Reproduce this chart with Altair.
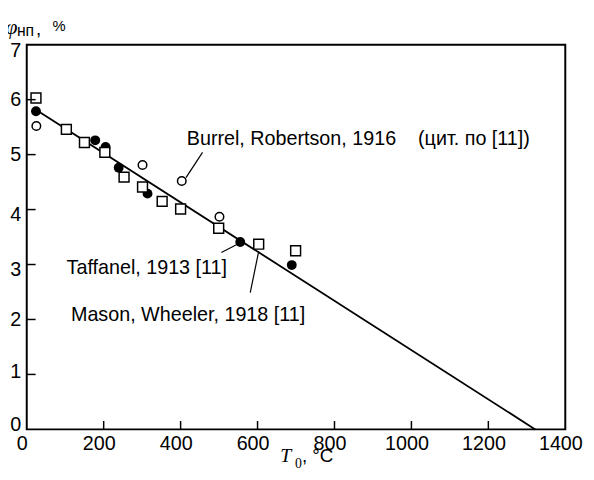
import altair as alt
import pandas as pd

# ---- data ----
sq_T = [24, 103, 150, 203, 253, 301, 352, 400, 499, 603, 699]
sq_v = [6.03, 5.46, 5.22, 5.04, 4.59, 4.41, 4.15, 4.01, 3.66, 3.37, 3.25]
fill_T = [24, 178, 205, 239, 314, 555, 689]
fill_v = [5.79, 5.26, 5.14, 4.76, 4.29, 3.41, 2.99]
open_T = [25, 301, 403, 501]
open_v = [5.52, 4.81, 4.52, 3.87]
fit_T = [30, 1322]
fit_v = [5.79, 0.0]

labels = ["Burrel, Robertson, 1916\u00a0\u00a0\u00a0\u00a0(цит. по [11])",
          "Taffanel, 1913 [11]",
          "Mason, Wheeler, 1918 [11]"]
label_T = [416, 103.5, 115]
label_v = [5.18, 2.82, 1.98]
lead_T1 = [414, 545, 603]
lead_v1 = [4.58, 3.36, 3.24]
lead_T2 = [457, 506, 581]
lead_v2 = [5.04, 3.22, 2.49]

x_ticks = [0, 200, 400, 600, 800, 1000, 1200, 1400]
y_ticks = [0, 1, 2, 3, 4, 5, 6, 7]
x_inner_ticks = [200, 400, 600, 800, 1000, 1200]
y_inner_ticks = [1, 2, 3, 4, 5, 6]

W, H = 546, 390
FONT = "Liberation Sans"

xs = alt.Scale(domain=[0, 1400], nice=False, zero=False)
ys = alt.Scale(domain=[0, 7], nice=False, zero=False)
xaxis = alt.Axis(values=x_ticks, ticks=False, domain=False, grid=False, title=None,
                 labelFontSize=20, labelFont=FONT, labelColor="black",
                 labelPadding=4, labelFlush=False, labelOffset=-5, format="d")
yaxis = alt.Axis(values=y_ticks, ticks=False, domain=False, grid=False, title=None,
                 labelFontSize=20, labelFont=FONT, labelColor="black",
                 labelPadding=6, labelFlush=False, format="d",
                 labelOffset={"condition": [
                     {"test": "datum.value == 7", "value": 6},
                     {"test": "datum.value == 4", "value": 5},
                     {"test": "datum.value == 3", "value": 5},
                     {"test": "datum.value == 1", "value": -3},
                     {"test": "datum.value == 0", "value": -5}],
                     "value": 0})


def X(f="T"):
    return alt.X(f + ":Q", scale=xs, axis=xaxis)


def Y(f="v"):
    return alt.Y(f + ":Q", scale=ys, axis=yaxis)


sq = pd.DataFrame({"T": sq_T, "v": sq_v})
fl = pd.DataFrame({"T": fill_T, "v": fill_v})
op = pd.DataFrame({"T": open_T, "v": open_v})
fit = pd.DataFrame({"T": fit_T, "v": fit_v})
lab = pd.DataFrame({"T": label_T, "v": label_v, "txt": labels})
lead = pd.DataFrame({"T": lead_T1, "v": lead_v1, "T2": lead_T2, "v2": lead_v2})
xt = pd.DataFrame({"T": x_inner_ticks})
yt = pd.DataFrame({"v": y_inner_ticks})
one = pd.DataFrame({"a": [0]})

line = alt.Chart(fit).mark_line(color="black", strokeWidth=1.8).encode(x=X(), y=Y())
filled = alt.Chart(fl).mark_point(shape="circle", filled=True, color="black",
                                  size=100, opacity=1).encode(x=X(), y=Y())
squares = alt.Chart(sq).mark_point(shape="square", filled=False, fill="white",
                                   fillOpacity=1, stroke="black", strokeWidth=1.5,
                                   size=100, opacity=1).encode(x=X(), y=Y())
opens = alt.Chart(op).mark_point(shape="circle", filled=False, fill="white",
                                 fillOpacity=1, stroke="black", strokeWidth=1.5,
                                 size=75, opacity=1).encode(x=X(), y=Y())
leaders = alt.Chart(lead).mark_rule(color="black", strokeWidth=1.2).encode(
    x=X(), y=Y(), x2="T2:Q", y2="v2:Q")
texts = alt.Chart(lab).mark_text(align="left", baseline="alphabetic", font=FONT,
                                 fontSize=20, color="black").encode(
    x=X(), y=Y(), text="txt:N")
xtick = alt.Chart(xt).mark_rule(color="black", strokeWidth=1.5).encode(
    x=X(), y=alt.value(H), y2=alt.value(H - 8.5))
ytick = alt.Chart(yt).mark_rule(color="black", strokeWidth=1.5).encode(
    y=Y(), x=alt.value(0), x2=alt.value(9))

# axis titles
phi = alt.Chart(one).mark_text(text="φ", font="Liberation Serif", fontStyle="italic",
                               fontSize=22, align="center", baseline="alphabetic",
                               color="black").encode(x=alt.value(-15.5), y=alt.value(-11))
phi_sub = alt.Chart(one).mark_text(text="нп", font=FONT, fontSize=16, align="left",
                                   baseline="alphabetic", color="black").encode(
    x=alt.value(-10), y=alt.value(-8.5))
phi_rest = alt.Chart(one).mark_text(text=",", font=FONT, fontSize=19, align="left",
                                    baseline="alphabetic", color="black").encode(
    x=alt.value(9.5), y=alt.value(-9.5))
pct = alt.Chart(one).mark_text(text="%", font=FONT, fontSize=15, align="left",
                               baseline="alphabetic", color="black").encode(
    x=alt.value(26), y=alt.value(-14))
t_main = alt.Chart(one).mark_text(text="T", font="Liberation Serif", fontStyle="italic",
                                  fontSize=20, align="left", baseline="alphabetic",
                                  color="black").encode(x=alt.value(257), y=alt.value(423))
t_sub = alt.Chart(one).mark_text(text="0", font="Liberation Serif", fontSize=14,
                                 align="left", baseline="alphabetic", color="black").encode(
    x=alt.value(272), y=alt.value(429.5))
t_rest = alt.Chart(one).mark_text(text=", °C", font=FONT, fontSize=19, align="left",
                                  baseline="alphabetic", color="black").encode(
    x=alt.value(279), y=alt.value(423))

chart = alt.layer(
    line, leaders, filled, squares, opens, texts, xtick, ytick,
    phi, phi_sub, phi_rest, pct, t_main, t_sub, t_rest
).properties(
    width=W, height=H,
    autosize=alt.AutoSizeParams(type="none"),
    padding={"left": 19, "top": 34, "right": 21, "bottom": 40},
    background="white",
).configure_view(stroke="black", strokeWidth=2)

chart.save("out.html", embed_options={"renderer": "svg", "actions": False})
